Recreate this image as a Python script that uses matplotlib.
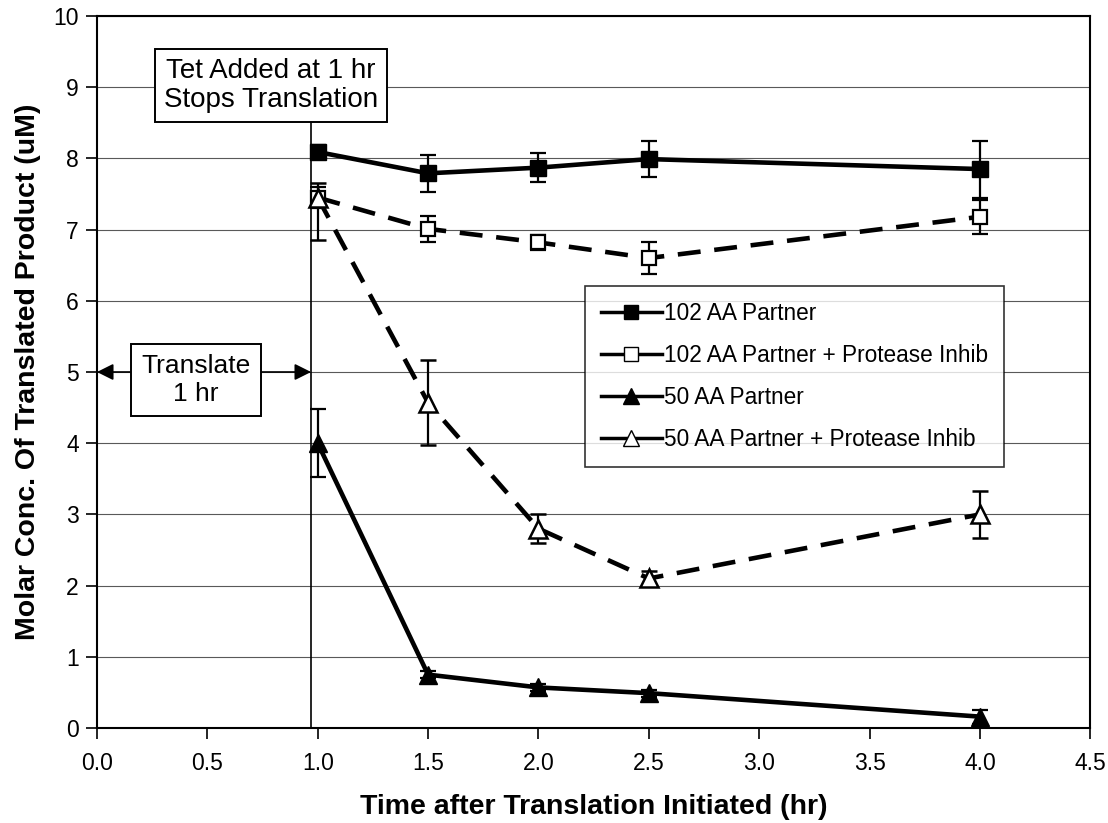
import matplotlib
matplotlib.use('Agg')
import matplotlib.pyplot as plt
from matplotlib.lines import Line2D

plt.rcParams['font.family'] = ['Liberation Sans', 'DejaVu Sans']

time_hr = [1.0, 1.5, 2.0, 2.5, 4.0]

aa102 = [8.09, 7.79, 7.87, 7.99, 7.85]
aa102_err = [0.1, 0.26, 0.2, 0.25, 0.4]

aa102_pi = [7.45, 7.01, 6.82, 6.6, 7.18]
aa102_pi_err = [0.15, 0.18, 0.1, 0.22, 0.24]

aa50 = [4.0, 0.75, 0.57, 0.49, 0.16]
aa50_err = [0.48, 0.05, 0.05, 0.05, 0.1]

aa50_pi = [7.45, 4.57, 2.8, 2.1, 3.0]
aa50_pi_err_low = [0.6, 0.6, 0.2, 0.1, 0.33]
aa50_pi_err_high = [0.2, 0.6, 0.2, 0.1, 0.33]

labels = ['102 AA Partner', '102 AA Partner + Protease Inhib',
          '50 AA Partner', '50 AA Partner + Protease Inhib']

tet_time = 0.97

fig = plt.figure(figsize=(11.08, 8.23), dpi=100)
ax = fig.add_axes([0.0875, 0.1154, 0.8965, 0.8652])

for y in range(1, 11):
    ax.axhline(y, color='0.35', lw=0.8, zorder=0)

dash = (0, (5, 3))
err_kw = dict(ecolor='black', elinewidth=1.6, capsize=6, capthick=1.6)

ax.errorbar(time_hr, aa102, yerr=aa102_err, color='black', lw=3.3,
            marker='s', ms=12, mfc='black', mec='black', zorder=5, **err_kw)
ax.errorbar(time_hr, aa102_pi, yerr=aa102_pi_err, color='black', lw=3.3,
            ls=dash, marker='s', ms=10.5, mfc='white', mec='black', mew=1.6,
            zorder=4, **err_kw)
ax.errorbar(time_hr, aa50, yerr=aa50_err, color='black', lw=3.3,
            marker='^', ms=13, mfc='black', mec='black', zorder=5, **err_kw)
ax.errorbar(time_hr, aa50_pi, yerr=[aa50_pi_err_low, aa50_pi_err_high],
            color='black', lw=3.3, ls=dash, marker='^', ms=13, mfc='white',
            mec='black', mew=1.8, zorder=4, **err_kw)

# tetracycline addition marker and translation window
ax.plot([tet_time, tet_time], [0, 8.6], color='black', lw=1.2, zorder=2)
ax.annotate('', xy=(0, 5), xytext=(tet_time, 5),
            arrowprops=dict(arrowstyle='<|-|>', color='black', lw=1.2,
                            mutation_scale=25, shrinkA=0, shrinkB=0),
            zorder=2)

ax.text(0.788, 9.02, 'Tet Added at 1 hr\nStops Translation', ha='center',
        va='center', fontsize=20, linespacing=1.15, zorder=6,
        bbox=dict(boxstyle='square,pad=0.33', fc='white', ec='black', lw=1.4))
ax.text(0.449, 4.89, 'Translate\n1 hr', ha='center', va='center',
        fontsize=19, linespacing=1.2, zorder=6,
        bbox=dict(boxstyle='square,pad=0.38', fc='white', ec='black', lw=1.4))

handles = [
    Line2D([], [], color='black', lw=2.5, marker='s', ms=10, mfc='black'),
    Line2D([], [], color='black', lw=2.5, marker='s', ms=10, mfc='white'),
    Line2D([], [], color='black', lw=2.5, marker='^', ms=11, mfc='black'),
    Line2D([], [], color='black', lw=2.5, marker='^', ms=11, mfc='white'),
]
leg = ax.legend(handles, labels, loc='upper left',
                bbox_to_anchor=(0.491, 0.621), borderaxespad=0,
                fontsize=16.3, frameon=True, fancybox=False,
                edgecolor='black', handlelength=2.7, handletextpad=0.1,
                labelspacing=0.85, borderpad=0.7)
leg.get_frame().set_linewidth(1.2)
leg.set_zorder(7)

ax.set_xlim(0, 4.5)
ax.set_ylim(0, 10)
ax.set_xticks([i * 0.5 for i in range(10)])
ax.set_xticklabels([f'{i * 0.5:.1f}' for i in range(10)])
ax.set_yticks(range(11))
ax.tick_params(axis='both', direction='out', length=8, width=1.2,
               labelsize=16.5, pad=5)
ax.tick_params(axis='x', pad=9)

for spine in ax.spines.values():
    spine.set_linewidth(1.5)

ax.set_xlabel('Time after Translation Initiated (hr)', fontsize=20.5,
              fontweight='bold', labelpad=14)
ax.set_ylabel('Molar Conc. Of Translated Product (uM)', fontsize=20.5,
              fontweight='bold', labelpad=9)

fig.savefig('out.png', dpi=100)
